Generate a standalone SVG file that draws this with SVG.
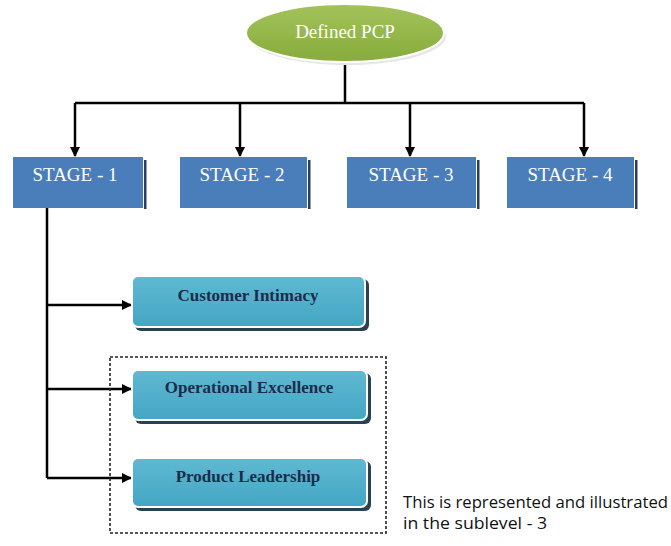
<svg xmlns="http://www.w3.org/2000/svg" width="671" height="546" viewBox="0 0 671 546">
  <style>
    .stage { fill: #4a7ebb; }
    .stage-shadow { fill: #2b3f5c; }
    .stage-text { font-family: "Liberation Serif", "Times New Roman", serif; font-size: 19px; fill: #ffffff; text-anchor: middle; }
    .item { fill: url(#cyanGrad); stroke: #ffffff; stroke-width: 2; }
    .item-shadow { fill: #2a4150; }
    .item-text { font-family: "Liberation Serif", "Times New Roman", serif; font-size: 17px; font-weight: bold; fill: #1c2b4a; text-anchor: middle; }
    .wire { fill: none; stroke: #000000; stroke-width: 2.5; }
    .note { font-family: "Open Sans", "Liberation Sans", Arial, sans-serif; font-size: 16px; fill: #111111; }
  </style>
  <defs>
    <linearGradient id="greenGrad" x1="0" y1="0" x2="0" y2="1">
      <stop offset="0" stop-color="#a3c35a"/>
      <stop offset="1" stop-color="#87ab3c"/>
    </linearGradient>
    <linearGradient id="cyanGrad" x1="0" y1="0" x2="0" y2="1">
      <stop offset="0" stop-color="#5fb9d2"/>
      <stop offset="1" stop-color="#44a6c4"/>
    </linearGradient>
    <marker id="arrow" viewBox="0 0 10 10" refX="9" refY="5" markerWidth="4" markerHeight="4" orient="auto" markerUnits="strokeWidth">
      <path d="M0,0 L10,5 L0,10 Z" fill="#000000"/>
    </marker>
  </defs>

  <rect width="671" height="546" fill="#ffffff"/>

  <!-- connectors -->
  <g id="connectors">
    <path class="wire" d="M345,62 V103"/>
    <path class="wire" d="M75,103 H584"/>
    <path class="wire" d="M75,103 V156" marker-end="url(#arrow)"/>
    <path class="wire" d="M240,103 V156" marker-end="url(#arrow)"/>
    <path class="wire" d="M410,103 V156" marker-end="url(#arrow)"/>
    <path class="wire" d="M584,103 V156" marker-end="url(#arrow)"/>
    <path class="wire" d="M47,208 V478"/>
    <path class="wire" d="M47,305 H131" marker-end="url(#arrow)"/>
    <path class="wire" d="M47,389 H131" marker-end="url(#arrow)"/>
    <path class="wire" d="M47,478 H131" marker-end="url(#arrow)"/>
  </g>

  <!-- root -->
  <g id="root">
    <ellipse cx="347" cy="36" rx="99" ry="29" fill="#e6e6e6"/>
    <ellipse cx="345" cy="33" rx="99" ry="29" fill="url(#greenGrad)" stroke="#ffffff" stroke-width="2"/>
    <text x="345" y="38" text-anchor="middle" font-family="Liberation Serif, Times New Roman, serif" font-size="19" fill="#ffffff">Defined PCP</text>
  </g>

  <!-- stages -->
  <g id="stage1">
    <rect class="stage-shadow" x="144" y="160" width="2.5" height="49"/>
    <rect class="stage" x="13" y="157" width="130" height="51"/>
    <text class="stage-text" x="75" y="181">STAGE - 1</text>
  </g>
  <g id="stage2">
    <rect class="stage-shadow" x="308" y="160" width="2.5" height="49"/>
    <rect class="stage" x="180" y="157" width="127" height="51"/>
    <text class="stage-text" x="242" y="181">STAGE - 2</text>
  </g>
  <g id="stage3">
    <rect class="stage-shadow" x="477" y="160" width="2.5" height="49"/>
    <rect class="stage" x="347" y="157" width="129" height="51"/>
    <text class="stage-text" x="411" y="181">STAGE - 3</text>
  </g>
  <g id="stage4">
    <rect class="stage-shadow" x="635" y="160" width="2.5" height="49"/>
    <rect class="stage" x="507" y="157" width="127" height="51"/>
    <text class="stage-text" x="570" y="181">STAGE - 4</text>
  </g>

  <!-- sublevel group outline -->
  <g id="sublevel-frame">
    <rect x="110" y="357" width="276" height="176" fill="none" stroke="#222222" stroke-width="1.6" stroke-dasharray="3,2"/>
  </g>

  <!-- strategies -->
  <g id="customer-intimacy">
    <rect class="item-shadow" x="135" y="279" width="234" height="52" rx="6"/>
    <rect class="item" x="132" y="276" width="233" height="51" rx="6"/>
    <text class="item-text" x="248" y="301">Customer Intimacy</text>
  </g>
  <g id="operational-excellence">
    <rect class="item-shadow" x="135" y="373" width="236" height="51" rx="6"/>
    <rect class="item" x="132" y="370" width="235" height="50" rx="6"/>
    <text class="item-text" x="249" y="393">Operational Excellence</text>
  </g>
  <g id="product-leadership">
    <rect class="item-shadow" x="135" y="461" width="236" height="50" rx="6"/>
    <rect class="item" x="132" y="458" width="235" height="49" rx="6"/>
    <text class="item-text" x="248" y="482">Product Leadership</text>
  </g>

  <!-- note -->
  <g id="note">
    <text class="note" x="403" y="508" textLength="265" lengthAdjust="spacingAndGlyphs">This is represented and illustrated</text>
    <text class="note" x="403" y="529" textLength="144" lengthAdjust="spacingAndGlyphs">in the sublevel - 3</text>
  </g>
</svg>
